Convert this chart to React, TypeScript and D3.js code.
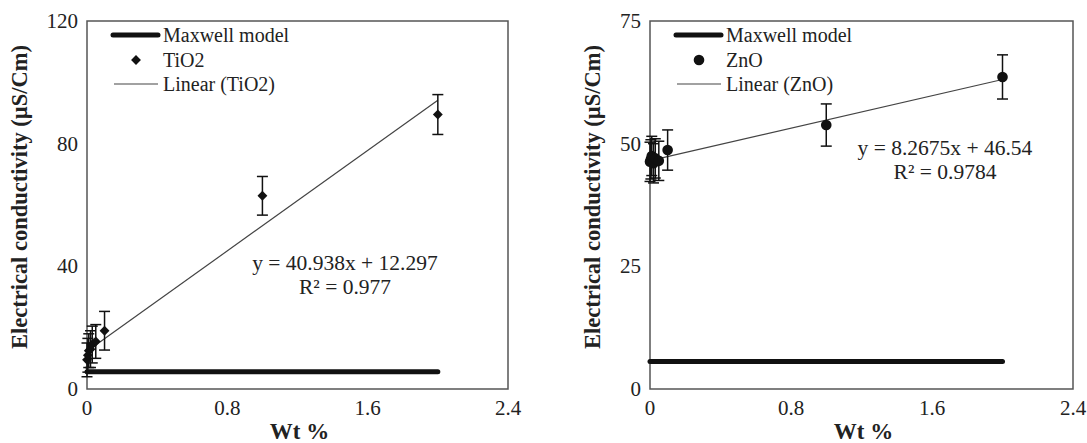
import React from 'react';
import * as d3 from 'd3';

// nanofluid loading (wt %) shared by both panels
const wtPercent = [0, 0.005, 0.01, 0.02, 0.03, 0.05, 0.1, 1, 2];

const tio2Cond = [9.5, 11, 12.5, 13, 14.5, 15.5, 19, 63, 89.5];
const tio2Err = [5.5, 5.5, 5.5, 6, 6, 5.5, 6.3, 6.3, 6.5];

const znoCond = [46.3, 46.8, 47.5, 46, 47, 46.5, 48.7, 53.8, 63.6];
const znoErr = [4, 4, 4, 4, 4, 4, 4.1, 4.3, 4.5];

const maxwellX = [0, 2];
const maxwellTio2 = [5.6, 5.6];
const maxwellZno = [5.6, 5.6];

const xTicks = [0, 0.8, 1.6, 2.4];
const xTickLabels = ['0', '0.8', '1.6', '2.4'];
const tio2YTicks = [0, 40, 80, 120];
const znoYTicks = [0, 25, 50, 75];

const SERIF = '"Liberation Serif", "Times New Roman", serif';
const INK = '#222';

type PanelProps = {
  left: number;
  right: number;
  titleX: number;
  yMax: number;
  yTicks: number[];
  values: number[];
  errors: number[];
  maxwell: number[];
  fit: { slope: number; intercept: number };
  name: string;
  marker: 'diamond' | 'circle';
  eqLines: string[];
  eqX: number;
  eqY: number;
};

const TOP = 21;
const BOTTOM = 389;

const Panel = ({ left, right, titleX, yMax, yTicks, values, errors, maxwell, fit, name, marker, eqLines, eqX, eqY }: PanelProps) => {
  const x = d3.scaleLinear().domain([0, 2.4]).range([left, right]);
  const y = d3.scaleLinear().domain([0, yMax]).range([BOTTOM, TOP]);

  const line = d3.line<[number, number]>().x(d => x(d[0])).y(d => y(d[1]));
  const maxwellPath = line(maxwellX.map((v, i) => [v, maxwell[i]]));
  const xMin = d3.min(wtPercent) as number;
  const xMax = d3.max(wtPercent) as number;
  const fitPath = line([
    [xMin, fit.intercept + fit.slope * xMin],
    [xMax, fit.intercept + fit.slope * xMax],
  ]);

  const diamond = d3.symbol(d3.symbolDiamond2, 62)() as string;

  const drawMarker = (cx: number, cy: number, key: string) =>
    marker === 'diamond' ? (
      <path key={key} d={diamond} transform={`translate(${cx},${cy})`} fill="#111" />
    ) : (
      <circle key={key} cx={cx} cy={cy} r={5.3} fill="#111" />
    );

  const legX = left + 26;

  return (
    <g>
      {/* frame */}
      <rect x={left} y={TOP} width={right - left} height={BOTTOM - TOP} fill="none" stroke="#555" strokeWidth={1.5} />

      {/* tick labels */}
      {yTicks.map(t => (
        <text key={'y' + t} x={left - 9} y={y(t) + 7} textAnchor="end" fontFamily={SERIF} fontSize={21} fill={INK}>
          {t}
        </text>
      ))}
      {xTicks.map((t, i) => (
        <text key={'x' + t} x={x(t)} y={415} textAnchor="middle" fontFamily={SERIF} fontSize={21} fill={INK}>
          {xTickLabels[i]}
        </text>
      ))}

      {/* axis titles */}
      <text
        transform={`translate(${titleX},197) rotate(-90)`}
        textAnchor="middle"
        fontFamily={SERIF}
        fontWeight="bold"
        fontSize={22.5}
        fill={INK}
      >
        Electrical conductivity (µS/Cm)
      </text>
      <text x={(left + right) / 2 + 2} y={439} textAnchor="middle" fontFamily={SERIF} fontWeight="bold" fontSize={23} fill={INK}>
        Wt %
      </text>

      {/* Maxwell model */}
      <path d={maxwellPath || ''} fill="none" stroke="#111" strokeWidth={5} strokeLinecap="round" />

      {/* linear fit */}
      <path d={fitPath || ''} fill="none" stroke="#444" strokeWidth={1.2} />

      {/* error bars */}
      {wtPercent.map((w, i) => {
        const cx = x(w);
        const y1 = y(values[i] + errors[i]);
        const y2 = y(values[i] - errors[i]);
        return (
          <g key={'e' + i} stroke="#111" strokeWidth={1.5}>
            <line x1={cx} x2={cx} y1={y1} y2={y2} />
            <line x1={cx - 5.5} x2={cx + 5.5} y1={y1} y2={y1} />
            <line x1={cx - 5.5} x2={cx + 5.5} y1={y2} y2={y2} />
          </g>
        );
      })}

      {/* points */}
      {wtPercent.map((w, i) => drawMarker(x(w), y(values[i]), 'p' + i))}

      {/* legend */}
      <line x1={legX} x2={legX + 45} y1={35} y2={35} stroke="#111" strokeWidth={5} strokeLinecap="round" />
      <text x={legX + 50} y={42} fontFamily={SERIF} fontSize={20} fill={INK}>Maxwell model</text>
      {drawMarker(legX + 23, 60, 'leg')}
      <text x={legX + 50} y={67} fontFamily={SERIF} fontSize={20} fill={INK}>{name}</text>
      <line x1={legX + 1} x2={legX + 45} y1={84} y2={84} stroke="#444" strokeWidth={1.2} />
      <text x={legX + 50} y={91} fontFamily={SERIF} fontSize={20} fill={INK}>{`Linear (${name})`}</text>

      {/* fit equation */}
      {eqLines.map((s, i) => (
        <text key={'eq' + i} x={eqX} y={eqY + i * 24} textAnchor="middle" fontFamily={SERIF} fontSize={21.5} fill={INK}>
          {s}
        </text>
      ))}
    </g>
  );
};

export default function App() {
  return (
    <svg
      width={1087}
      height={443}
      style={{ position: 'absolute', left: 0, top: 0, background: '#fff' }}
    >
      <Panel
        left={87}
        right={508}
        titleX={27}
        yMax={120}
        yTicks={tio2YTicks}
        values={tio2Cond}
        errors={tio2Err}
        maxwell={maxwellTio2}
        fit={{ slope: 40.938, intercept: 12.297 }}
        name="TiO2"
        marker="diamond"
        eqLines={['y = 40.938x + 12.297', 'R² = 0.977']}
        eqX={345}
        eqY={270}
      />
      <Panel
        left={650}
        right={1073}
        titleX={600}
        yMax={75}
        yTicks={znoYTicks}
        values={znoCond}
        errors={znoErr}
        maxwell={maxwellZno}
        fit={{ slope: 8.2675, intercept: 46.54 }}
        name="ZnO"
        marker="circle"
        eqLines={['y = 8.2675x + 46.54', 'R² = 0.9784']}
        eqX={945}
        eqY={155}
      />
    </svg>
  );
}
